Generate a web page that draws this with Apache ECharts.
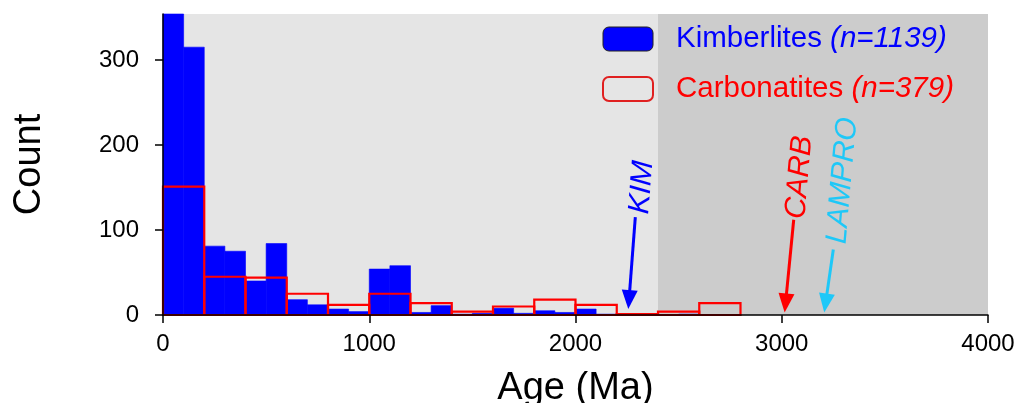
<!DOCTYPE html>
<html>
<head>
<meta charset="utf-8">
<script src="https://cdn.jsdelivr.net/npm/echarts@6/dist/echarts.min.js"></script>
<style>
html,body{margin:0;padding:0;background:#fff;overflow:hidden;}
#chart{width:1023px;height:403px;}
</style>
</head>
<body>
<div id="chart"></div>
<script>
// ---- Data ----
// Kimberlite histogram: 100 Ma bins (bin start ages)
var kimBinStarts = [0,100,200,300,400,500,600,700,800,900,1000,1100,1200,1300,1400,1500,1600,1700,1800,1900,2000,2100,2200,2300,2400,2500,2600,2700];
var kimCounts    = [360,315,81,75,40,84,18,12,7,4,54,58,3,11,1,2,8,2,5,3,7,1,0,0,0,1,0,0];
var kimBinWidth = 100;
// Carbonatite histogram: 200 Ma bins
var carbBinStarts = [0,200,400,600,800,1000,1200,1400,1600,1800,2000,2200,2400,2600];
var carbCounts    = [151,45,44,25,12,25,14,4,10,18,12,1,4,14];
var carbBinWidth = 200;
// Background age regions
var regionStarts = [0, 2400];
var regionEnds   = [2400, 4000];
var regionColors = ['#e5e5e5', '#cccccc'];
// Annotations (arrows) in data coordinates
var annoLabels = ['KIM', 'CARB', 'LAMPRO'];
var annoColors = ['#0000ff', '#ff0000', '#1ec8f8'];
var annoTail   = [[2290, 115], [3058, 112], [3250, 77]];
var annoTip    = [[2256, 7], [3014, 3], [3206, 3]];
var annoText   = [[2322, 150], [3086, 162], [3295, 158]];
// Axis ticks
var xTicks = [0, 1000, 2000, 3000, 4000];
var yTicks = [0, 100, 200, 300];
var seriesNames = ['Kimberlites', 'Carbonatites'];
var seriesN = ['(n=1139)', '(n=379)'];

var FONT = '"Liberation Sans", Arial, Helvetica, sans-serif';

var kimData = kimBinStarts.map(function (s, i) { return [s, s + kimBinWidth, kimCounts[i]]; });
var carbData = carbBinStarts.map(function (s, i) { return [s, s + carbBinWidth, carbCounts[i]]; });
var regionData = regionStarts.map(function (s, i) { return [s, regionEnds[i]]; });

function barItem(params, api, style) {
  var p0 = api.coord([api.value(0), 0]);
  var p1 = api.coord([api.value(1), api.value(2)]);
  var shape = echarts.graphic.clipRectByRect(
    { x: p0[0], y: p1[1], width: p1[0] - p0[0], height: p0[1] - p1[1] },
    { x: params.coordSys.x, y: params.coordSys.y, width: params.coordSys.width, height: params.coordSys.height + 1 }
  );
  if (!shape) return null;
  return { type: 'rect', shape: shape, style: style };
}

var chart = echarts.init(document.getElementById('chart'), null, { renderer: 'canvas' });

var option = {
  animation: false,
  backgroundColor: '#ffffff',
  grid: { left: 163, right: 35, top: 14, bottom: 88, containLabel: false, outerBoundsMode: 'none' },
  legend: {
    orient: 'vertical',
    left: 602,
    top: 24,
    padding: 0,
    itemWidth: 50,
    itemHeight: 24,
    itemGap: 20,
    icon: 'roundRect',
    selectedMode: false,
    data: [
      { name: seriesNames[0], itemStyle: { color: '#0000ff', borderColor: '#222222', borderWidth: 1 }, textStyle: { color: '#0000ff' } },
      { name: seriesNames[1], itemStyle: { color: 'rgba(0,0,0,0)', borderColor: '#e02020', borderWidth: 2 }, textStyle: { color: '#ff0000' } }
    ],
    formatter: function (name) {
      var i = seriesNames.indexOf(name);
      return name + ' {' + (i === 0 ? 'ib' : 'ir') + '|' + seriesN[i] + '}';
    },
    textStyle: {
      fontFamily: FONT,
      fontSize: 29.5,
      lineHeight: 29,
      padding: [0, 0, 0, 18],
      rich: {
        ib: { fontStyle: 'italic', fontSize: 29.5, lineHeight: 29, color: '#0000ff', fontFamily: FONT },
        ir: { fontStyle: 'italic', fontSize: 29.5, lineHeight: 29, color: '#ff0000', fontFamily: FONT }
      }
    }
  },
  xAxis: {
    type: 'value',
    min: xTicks[0],
    max: xTicks[xTicks.length - 1],
    interval: 1000,
    z: 10,
    name: 'Age (Ma)',
    nameLocation: 'middle',
    nameGap: 55,
    nameTextStyle: { fontFamily: FONT, fontSize: 38, color: '#000' },
    axisLine: { show: true, onZero: false, lineStyle: { color: '#000', width: 1.5 } },
    axisTick: { show: true, inside: false, length: 8, lineStyle: { color: '#000', width: 1.5 } },
    axisLabel: { fontFamily: FONT, fontSize: 24, color: '#000', margin: 17,
      formatter: function (v) { return String(v); } },
    splitLine: { show: false }
  },
  yAxis: {
    type: 'value',
    min: 0,
    max: 354,
    interval: 100,
    z: 10,
    name: 'Count',
    nameLocation: 'middle',
    nameGap: 114,
    nameRotate: 90,
    nameTextStyle: { fontFamily: FONT, fontSize: 38, color: '#000' },
    axisLine: { show: true, lineStyle: { color: '#000', width: 1.5 } },
    axisTick: { show: true, inside: false, length: 8, lineStyle: { color: '#000', width: 1.5 } },
    axisLabel: { fontFamily: FONT, fontSize: 24, color: '#000', margin: 24, showMaxLabel: false,
      formatter: function (v) { return yTicks.indexOf(v) >= 0 ? String(v) : ''; } },
    splitLine: { show: false }
  },
  series: [
    {
      type: 'custom',
      name: 'bg',
      z: 0,
      silent: true,
      data: regionData,
      renderItem: function (params, api) {
        var p0 = api.coord([api.value(0), 0]);
        var p1 = api.coord([api.value(1), 0]);
        var cs = params.coordSys;
        return { type: 'rect', shape: { x: p0[0], y: cs.y, width: p1[0] - p0[0], height: cs.height },
          style: { fill: regionColors[params.dataIndex] } };
      }
    },
    {
      type: 'custom',
      name: seriesNames[0],
      z: 2,
      data: kimData,
      itemStyle: { color: '#0000ff' },
      renderItem: function (params, api) {
        return barItem(params, api, { fill: '#0000ff', stroke: '#0000ff', lineWidth: 0.6 });
      }
    },
    {
      type: 'custom',
      name: seriesNames[1],
      z: 3,
      data: carbData,
      itemStyle: { color: '#ff0000' },
      renderItem: function (params, api) {
        return barItem(params, api, { fill: 'none', stroke: '#ff0000', lineWidth: 2.2 });
      }
    },
    {
      type: 'custom',
      name: 'annotations',
      z: 5,
      silent: true,
      clip: false,
      data: annoTip.map(function (t) { return t; }),
      renderItem: function (params, api) {
        var i = params.dataIndex;
        var tip = api.coord(annoTip[i]);
        var tail = api.coord(annoTail[i]);
        var tp = api.coord(annoText[i]);
        var dx = tip[0] - tail[0], dy = tip[1] - tail[1];
        var L = Math.sqrt(dx * dx + dy * dy);
        var ux = dx / L, uy = dy / L;
        var headLen = 19, headHalf = 8;
        var bx = tip[0] - ux * headLen, by = tip[1] - uy * headLen;
        var nx = -uy, ny = ux;
        var col = annoColors[i];
        return {
          type: 'group',
          children: [
            { type: 'line', shape: { x1: tail[0], y1: tail[1], x2: bx + ux * 2, y2: by + uy * 2 },
              style: { stroke: col, lineWidth: 3 } },
            { type: 'polygon', shape: { points: [[tip[0], tip[1]], [bx + nx * headHalf, by + ny * headHalf], [bx - nx * headHalf, by - ny * headHalf]] },
              style: { fill: col } },
            { type: 'text', x: tp[0], y: tp[1], rotation: 85 * Math.PI / 180,
              style: { text: annoLabels[i], fill: col, font: 'italic 30px ' + FONT, align: 'center', verticalAlign: 'middle' } }
          ]
        };
      }
    }
  ]
};
chart.setOption(option);
</script>
</body>
</html>
